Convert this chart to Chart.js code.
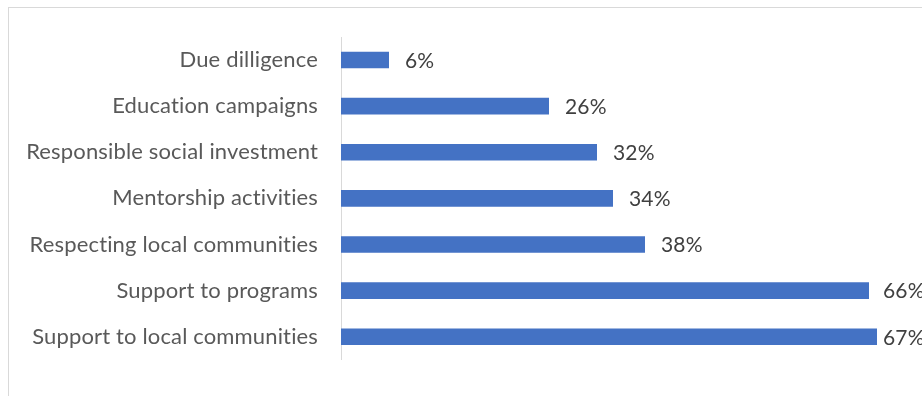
<!DOCTYPE html>
<html>
<head>
<meta charset="utf-8">
<script src="https://cdn.jsdelivr.net/npm/chart.js@4"></script>
<style>
  body { margin: 0; background: #fff; }
  #wrap { position: relative; width: 922px; height: 396px; overflow: hidden; }
  #frame { position: absolute; left: 8px; top: 7px; width: 940px; height: 420px; border: 1px solid #d9d9d9; }
  canvas { position: absolute; left: 0; top: 0; }
</style>
</head>
<body>
<div id="wrap">
  <div id="frame"></div>
  <canvas id="bars" width="922" height="396"></canvas>
</div>
<script>
let categories = [
    'Due dilligence',
    'Education campaigns',
    'Responsible social investment',
    'Mentorship activities',
    'Respecting local communities',
    'Support to programs',
    'Support to local communities'
];
let shares = [6, 26, 32, 34, 38, 66, 67];

let barCol = '#4472C4';
let fontName = 'Lato, "Liberation Sans", sans-serif';

// a touch of spacing, also keeps Lato from joining "ti"
let textSpacing = {
    id: 'textSpacing',
    beforeUpdate(chart) { chart.ctx.letterSpacing = '0.15px'; },
    beforeDraw(chart) { chart.ctx.letterSpacing = '0.15px'; }
};

// percent label just past the end of every bar, kept inside the plot on the right
let valueLabels = {
    id: 'valueLabels',
    afterDatasetsDraw(chart) {
        let ctx = chart.ctx;
        let meta = chart.getDatasetMeta(0);
        let maxX = chart.chartArea.right - 18;
        ctx.save();
        ctx.font = '21px ' + fontName;
        ctx.fillStyle = '#404040';
        ctx.textAlign = 'left';
        ctx.textBaseline = 'middle';
        meta.data.forEach(function (bar, i) {
            let x = Math.min(bar.x + 16, maxX);
            ctx.fillText(chart.data.datasets[0].data[i] + '%', x, bar.y + 1);
        });
        ctx.restore();
    }
};

var ctx = document.getElementById('bars').getContext('2d');
var chart = new Chart(ctx, {
    type: 'bar',
    data: {
        labels: categories,
        datasets: [{
            data: shares,
            backgroundColor: barCol,
            borderWidth: 0,
            categoryPercentage: 1,
            barPercentage: 0.36
        }]
    },
    options: {
        indexAxis: 'y',
        responsive: false,
        animation: false,
        layout: {
            padding: { left: 0, right: 21, top: 37, bottom: 27 }
        },
        plugins: {
            legend: { display: false },
            tooltip: { enabled: false }
        },
        scales: {
            x: {
                display: false,
                min: 0,
                max: 70
            },
            y: {
                grid: { display: false, drawTicks: false },
                border: { display: true, color: '#d9d9d9', width: 1 },
                ticks: {
                    padding: 23,
                    color: '#595959',
                    font: { family: fontName, size: 22 }
                },
                afterFit(scale) {
                    scale.width = 341;
                }
            }
        }
    },
    plugins: [textSpacing, valueLabels]
});
</script>
</body>
</html>
